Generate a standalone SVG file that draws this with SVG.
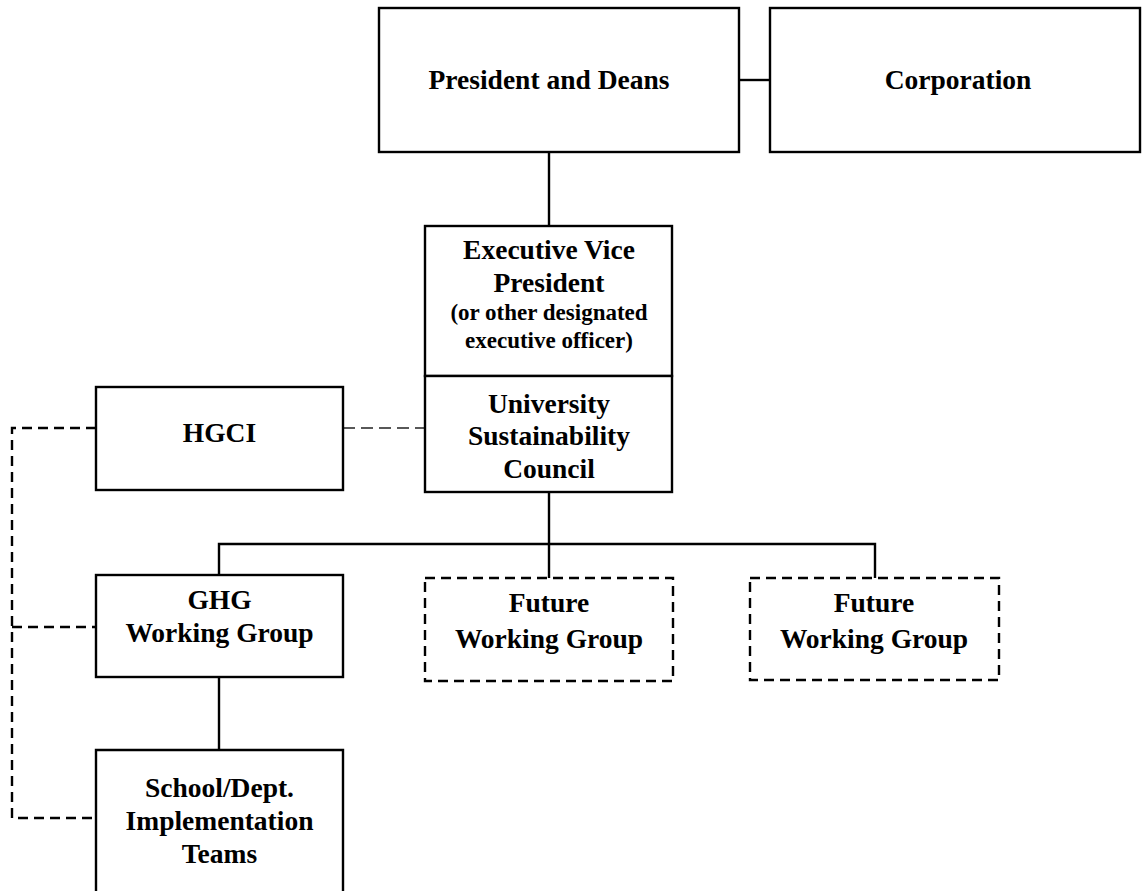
<svg xmlns="http://www.w3.org/2000/svg" width="1145" height="891" viewBox="0 0 1145 891">
<style>
.box{fill:#fff;stroke:#000;stroke-width:2.4}
.dbox{fill:#fff;stroke:#000;stroke-width:2.4;stroke-dasharray:10,6}
.ln{fill:none;stroke:#000;stroke-width:2.4}
.dl{fill:none;stroke:#000;stroke-width:2.4;stroke-dasharray:10,6}
.tl{fill:none;stroke:#222;stroke-width:1.3;stroke-dasharray:12,6}
text{font-family:"Liberation Serif","Times New Roman",serif;font-weight:bold;text-anchor:middle;fill:#000}
.t{font-size:27.5px}
.s{font-size:23px}
</style>
<rect width="1145" height="891" fill="#fff"/>
<g id="connectors">
<line class="ln" x1="739" y1="80" x2="770" y2="80"/>
<line class="ln" x1="549" y1="152" x2="549" y2="226"/>
<line class="ln" x1="549" y1="492" x2="549" y2="544"/>
<polyline class="ln" points="219,575 219,544 875,544 875,578"/>
<line class="ln" x1="549" y1="544" x2="549" y2="578"/>
<line class="ln" x1="219" y1="677" x2="219" y2="750"/>
<line class="tl" x1="343" y1="428" x2="425" y2="428"/>
<polyline class="dl" points="96,428 12,428 12,818 92,818"/>
<line class="dl" x1="12" y1="627" x2="96" y2="627"/>
</g>
<g id="president">
<rect class="box" x="379" y="8" width="360" height="144"/>
<text class="t" x="549" y="89">President and Deans</text>
</g>
<g id="corporation">
<rect class="box" x="770" y="8" width="370" height="144"/>
<text class="t" x="958" y="89">Corporation</text>
</g>
<g id="evp">
<rect class="box" x="425" y="226" width="247" height="150"/>
<text class="t" x="549" y="259">Executive Vice</text>
<text class="t" x="549" y="292">President</text>
<text class="s" x="549" y="320">(or other designated</text>
<text class="s" x="549" y="348">executive officer)</text>
</g>
<g id="usc">
<rect class="box" x="425" y="376" width="247" height="116"/>
<text class="t" x="549" y="413">University</text>
<text class="t" x="549" y="445">Sustainability</text>
<text class="t" x="549" y="478">Council</text>
</g>
<g id="hgci">
<rect class="box" x="96" y="387" width="247" height="103"/>
<text class="t" x="219.5" y="442">HGCI</text>
</g>
<g id="ghg">
<rect class="box" x="96" y="575" width="247" height="102"/>
<text class="t" x="219.5" y="609">GHG</text>
<text class="t" x="219.5" y="642">Working Group</text>
</g>
<g id="future1">
<rect class="dbox" x="425" y="578" width="248" height="103"/>
<text class="t" x="549" y="612">Future</text>
<text class="t" x="549" y="648">Working Group</text>
</g>
<g id="future2">
<rect class="dbox" x="750" y="578" width="249" height="102"/>
<text class="t" x="874" y="612">Future</text>
<text class="t" x="874" y="648">Working Group</text>
</g>
<g id="school">
<path class="ln" d="M96,900 V750 H343 V900"/>
<text class="t" x="219.5" y="797">School/Dept.</text>
<text class="t" x="219.5" y="830">Implementation</text>
<text class="t" x="219.5" y="863">Teams</text>
</g>
</svg>
